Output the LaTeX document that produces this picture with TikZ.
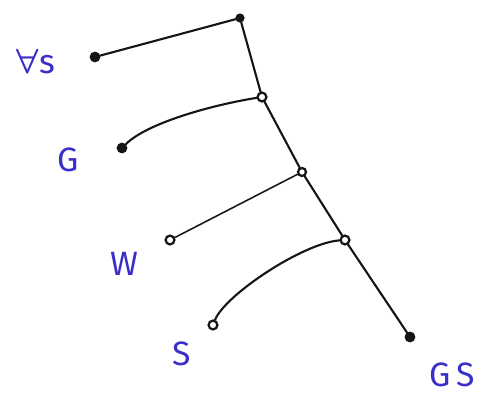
\documentclass[tikz,border=0pt]{standalone}
\usepackage{fontspec}
\setsansfont{Fira Sans}
\usepackage{xcolor}
\definecolor{ink}{HTML}{3A2FC8}
\definecolor{pen}{HTML}{151515}
\usetikzlibrary{calc}
\tikzset{
  leaf/.style={circle,draw=pen,fill=pen,line width=0.8pt,inner sep=0pt,minimum size=2.4mm},
  hub/.style={circle,draw=pen,fill=white,line width=1.6pt,inner sep=0pt,minimum size=2.2mm},
  lab/.style={font=\fontsize{24}{28}\selectfont\sffamily\color{ink},inner sep=0pt},
  edge/.style={draw=pen,line width=1.5pt,line cap=round},
}
\begin{document}
\begin{tikzpicture}[x=0.025cm,y=-0.025cm]
\useasboundingbox (0,0) rectangle (496,403);
% inner vertices of the tree
\node[leaf,minimum size=2mm] (top) at (240,18) {};
\node[hub] (n2) at (262,97) {};
\node[hub,minimum size=2mm] (n3) at (302,172) {};
\node[hub] (n4) at (345,240) {};
% leaves
\node[leaf] (vs) at (95,57) {};
\node[leaf] (g) at (122,148) {};
\node[hub] (w) at (170,240) {};
\node[hub] (s) at (213,325) {};
\node[leaf] (gs) at (410,337) {};
% labels
\node[lab] (lvs) at (36,62) {{\boldmath$\forall$}s};
\node[lab] (lg) at (68,160) {G};
\node[lab] (lw) at (124,264) {W};
\node[lab] (ls) at (182,354) {S};
\node[lab] (lgs) at (452,375) {G\,S};
% trunk
\foreach \u/\v in {top/n2,n2/n3,n3/n4,n4/gs} \draw[edge] (\u)--(\v);
% branches
\draw[edge] (vs) -- (top);
\draw[edge] (g) .. controls +(25,-25) and +(-50,8) .. (n2);
\draw[edge,line width=1.1pt] (w) -- (n3);
\draw[edge] (s) .. controls +(12,-30) and +(-42,3) .. (n4);
\end{tikzpicture}
\end{document}
